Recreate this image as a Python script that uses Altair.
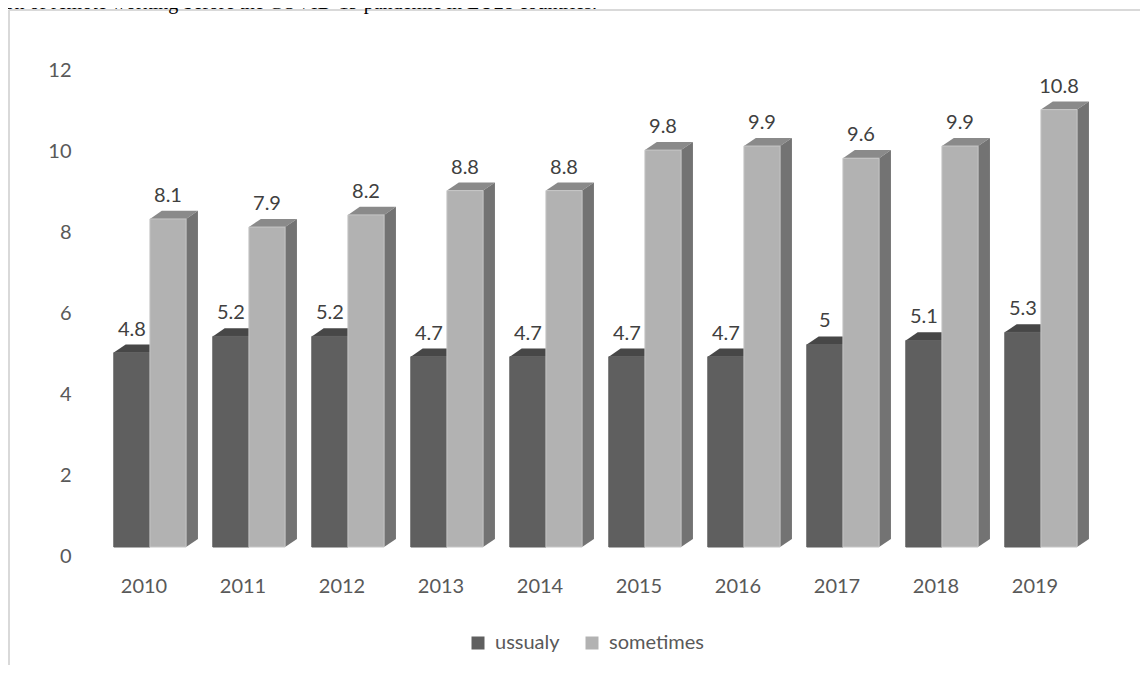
import altair as alt
import pandas as pd

# ---------------- data ----------------
years = [2010, 2011, 2012, 2013, 2014, 2015, 2016, 2017, 2018, 2019]
usually = [4.8, 5.2, 5.2, 4.7, 4.7, 4.7, 4.7, 5, 5.1, 5.3]
sometimes = [8.1, 7.9, 8.2, 8.8, 8.8, 9.8, 9.9, 9.6, 9.9, 10.8]
series_names = ["ussualy", "sometimes"]
y_ticks = [0, 2, 4, 6, 8, 10, 12]
title_text = "Evaluation of remote working before the COVID-19 pandemic in EU28 countries."

# ---------------- style ----------------
FONT = "Lato"
AXIS_COLOR = "#595959"
LABEL_COLOR = "#404040"
FRONT = {"ussualy": "#5f5f5f", "sometimes": "#b2b2b2"}
EDGE = {"ussualy": "#5f5f5f", "sometimes": "#c6c6c6"}
TOP = {"ussualy": "#474747", "sometimes": "#8a8a8a"}
SIDE = {"ussualy": "#3f3f3f", "sometimes": "#737373"}
OFFSET = {"ussualy": -0.30, "sometimes": 0.065}   # bar left edge relative to year
BAR_W = 0.365                                      # bar width in year units
DX = 0.12                                          # 3D depth, x (year units)
DY = 0.2                                           # 3D depth, y (value units)

# ---------------- tables built from the arrays ----------------
front_rows, top_rows, side_rows = [], [], []
for s, vals in zip(series_names, [usually, sometimes]):
    for yr, v in zip(years, vals):
        key = f"{s}-{yr}"
        x0 = yr + OFFSET[s]
        x1 = x0 + BAR_W
        front_rows.append({"year": yr, "series": s, "value": v, "x0": x0, "x1": x1,
                           "xm": (x0 + x1) / 2, "top": v + DY, "label": f"{v:g}",
                           "edge": EDGE[s]})
        for k, (xx, yt, yb) in enumerate([(x0, v, v), (x0 + DX, v + DY, v),
                                          (x1, v + DY, v), (x1 + DX, v + DY, v + DY)]):
            top_rows.append({"key": key, "k": k, "x": xx, "yt": yt, "yb": yb, "face": TOP[s]})
        for k, (xx, yt, yb) in enumerate([(x1, v, 0), (x1 + DX, v + DY, DY)]):
            side_rows.append({"key": key, "k": k, "x": xx, "yt": yt, "yb": yb, "face": SIDE[s]})

front_df = pd.DataFrame(front_rows)
top_df = pd.DataFrame(top_rows)
side_df = pd.DataFrame(side_rows)

W, H = 990, 486
PAD = {"left": 86, "top": 53, "right": 56, "bottom": 118}

x_scale = alt.Scale(domain=[2009.5, 2019.5], nice=False, zero=False)
y_scale = alt.Scale(domain=[0, 12], nice=False)

x_axis = alt.Axis(values=years, format="d", domain=False, ticks=False, grid=False,
                  labelFont=FONT, labelFontSize=20, labelColor=AXIS_COLOR,
                  labelPadding=29, title=None)
y_axis = alt.Axis(values=y_ticks, domain=False, ticks=False, grid=False,
                  labelFont=FONT, labelFontSize=20, labelColor=AXIS_COLOR,
                  labelPadding=23, labelOffset=9, title=None)

top_layer = alt.Chart(top_df).mark_area(strokeWidth=0).encode(
    x=alt.X("x:Q", scale=x_scale, axis=x_axis),
    y=alt.Y("yt:Q", scale=y_scale, axis=y_axis, stack=None),
    y2="yb:Q",
    detail="key:N",
    fill=alt.Fill("face:N", scale=None),
)

side_layer = alt.Chart(side_df).mark_area(strokeWidth=0).encode(
    x=alt.X("x:Q", scale=x_scale, axis=x_axis),
    y=alt.Y("yt:Q", scale=y_scale, axis=y_axis, stack=None),
    y2="yb:Q",
    detail="key:N",
    fill=alt.Fill("face:N", scale=None),
)

front_layer = alt.Chart(front_df).mark_rect(strokeWidth=1).encode(
    x=alt.X("x0:Q", scale=x_scale, axis=x_axis),
    x2="x1:Q",
    y=alt.Y("value:Q", scale=y_scale, axis=y_axis),
    y2=alt.datum(0),
    color=alt.Color("series:N",
                    scale=alt.Scale(domain=series_names,
                                    range=[FRONT[s] for s in series_names]),
                    sort=series_names,
                    legend=alt.Legend(orient="none", legendX=374, legendY=572,
                                      direction="horizontal", title=None,
                                      symbolType="square", symbolSize=169,
                                      symbolStrokeWidth=0, labelFont=FONT,
                                      labelFontSize=20, labelColor=AXIS_COLOR,
                                      labelOffset=7, columnPadding=22, padding=0)),
    stroke=alt.Stroke("edge:N", scale=None),
)

label_layer = alt.Chart(front_df).mark_text(
    font=FONT, fontSize=20, color=LABEL_COLOR, baseline="middle", dy=-15
).encode(
    x=alt.X("xm:Q", scale=x_scale, axis=x_axis),
    y=alt.Y("top:Q", scale=y_scale, axis=y_axis),
    text="label:N",
)

one = pd.DataFrame({"t": [title_text]})
title_layer = alt.Chart(one).mark_text(
    font="Liberation Serif", fontSize=20, align="right", baseline="alphabetic", color="black"
).encode(x=alt.value(503), y=alt.value(-52), text="t:N")

border_left = alt.Chart(one).mark_rule(color="#d9d9d9", strokeWidth=2).encode(
    x=alt.value(-85), y=alt.value(-51), y2=alt.value(H + PAD["bottom"]))
border_top = alt.Chart(one).mark_rule(color="#d9d9d9", strokeWidth=2).encode(
    x=alt.value(-85), x2=alt.value(W + PAD["right"]), y=alt.value(-51))

chart = alt.layer(
    border_left, border_top, title_layer,
    top_layer, side_layer, front_layer, label_layer
).properties(
    width=W, height=H,
    autosize=alt.AutoSizeParams(type="none"),
    padding=PAD,
).configure_view(stroke=None)

chart.save("out.html", embed_options={"renderer": "svg", "actions": False})
